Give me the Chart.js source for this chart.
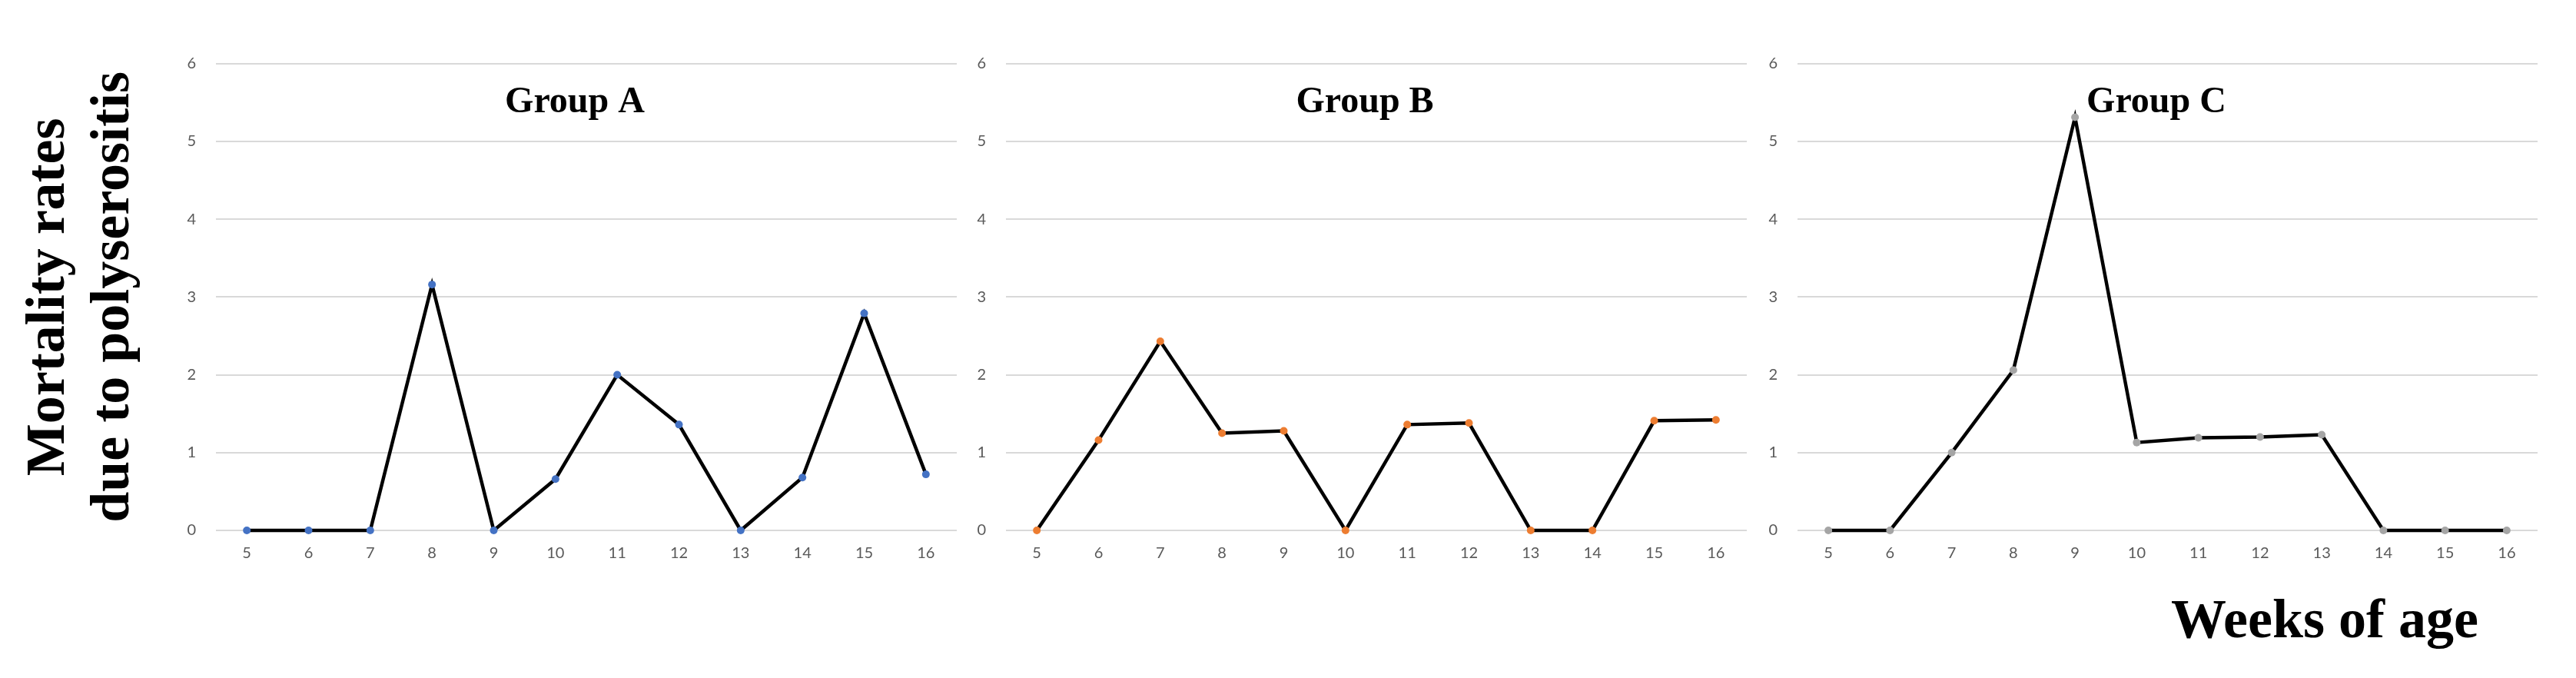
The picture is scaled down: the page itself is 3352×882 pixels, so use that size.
<!DOCTYPE html>
<html>
<head>
<meta charset="utf-8">
<title>Mortality rates due to polyserositis</title>
<script src="https://cdn.jsdelivr.net/npm/chart.js@4.4.1/dist/chart.umd.min.js"></script>
<style>
  html, body { margin: 0; padding: 0; background: #fff; }
  body { width: 3352px; height: 882px; position: relative; overflow: hidden; }
  canvas { position: absolute; top: 0; }
</style>
</head>
<body>
<canvas id="chartA" width="1250" height="882" style="left:0px"></canvas>
<canvas id="chartB" width="1028" height="882" style="left:1250px"></canvas>
<canvas id="chartC" width="1072" height="882" style="left:2280px"></canvas>
<script>
// weeks of age on the x axis
const weeks = ['5', '6', '7', '8', '9', '10', '11', '12', '13', '14', '15', '16'];

// mortality rates
const groupA = [0, 0, 0, 3.16, 0, 0.66, 2.0, 1.36, 0, 0.68, 2.79, 0.72];
const groupB = [0, 1.16, 2.43, 1.25, 1.28, 0, 1.36, 1.38, 0, 0, 1.41, 1.42];
const groupC = [0, 0, 1.0, 2.06, 5.31, 1.13, 1.19, 1.20, 1.23, 0, 0, 0];

const yMax = 6;
const yTitle = ['Mortality rates', 'due to polyserositis'];
const xTitle = 'Weeks of age';

const tickFont = { family: 'Lato, "Open Sans", sans-serif', size: 20 };
const tickColor = '#595959';
const serif = '"Liberation Serif", "Times New Roman", serif';

// draws the group name (and the x axis caption) over the plot, like Excel does
const captionPlugin = {
    id: 'captions',
    afterDraw(chart, args, opts) {
        const ctx = chart.ctx;
        const area = chart.chartArea;
        (opts.items || []).forEach(item => {
            ctx.save();
            ctx.font = `bold ${item.size}px ${serif}`;
            ctx.fillStyle = '#000';
            ctx.textAlign = 'center';
            ctx.textBaseline = 'alphabetic';
            ctx.fillText(item.text, area.left + item.dx, item.y);
            ctx.restore();
        });
    }
};

function makeChart(id, values, markerColor, yWidth, padRight, captions, showYTitle) {
    let ctx = document.getElementById(id).getContext('2d');
    return new Chart(ctx, {
        type: 'line',
        data: {
            labels: weeks,
            datasets: [{
                data: values,
                borderColor: '#000',
                borderWidth: 4.5,
                pointRadius: 5,
                pointHoverRadius: 5,
                pointBorderWidth: 0,
                pointBackgroundColor: markerColor,
                tension: 0,
                clip: false
            }]
        },
        options: {
            responsive: false,
            animation: false,
            layout: { padding: { top: 82.7, right: padRight, bottom: 0, left: 0 } },
            plugins: {
                legend: { display: false },
                tooltip: { enabled: false },
                captions: { items: captions }
            },
            scales: {
                x: {
                    offset: true,
                    grid: { display: false, drawTicks: false },
                    border: { display: false },
                    ticks: { font: tickFont, color: tickColor, padding: 18, maxRotation: 0, autoSkip: false },
                    afterFit: scale => { scale.height = 192; }
                },
                y: {
                    min: 0,
                    max: yMax,
                    grid: { color: '#d9d9d9', lineWidth: 2, drawTicks: false },
                    border: { display: false },
                    ticks: { stepSize: 1, font: tickFont, color: tickColor, padding: 26 },
                    title: {
                        display: showYTitle,
                        text: yTitle,
                        color: '#000',
                        font: { family: serif, size: 72, weight: 'bold', lineHeight: 1.1667 },
                        padding: { top: 22, bottom: 0 }
                    },
                    afterFit: scale => { scale.width = yWidth; }
                }
            }
        },
        plugins: [captionPlugin]
    });
}

makeChart('chartA', groupA, '#4472C4', 281, 5,
    [{ text: 'Group A', dx: 467, y: 146, size: 48 }], true);
makeChart('chartB', groupB, '#ED7D31', 59, 5,
    [{ text: 'Group B', dx: 467, y: 146, size: 48 }], false);
makeChart('chartC', groupC, '#A5A5A5', 59, 50,
    [{ text: 'Group C', dx: 467, y: 146, size: 48 },
     { text: xTitle, dx: 686, y: 829, size: 72 }], false);
</script>
</body>
</html>
